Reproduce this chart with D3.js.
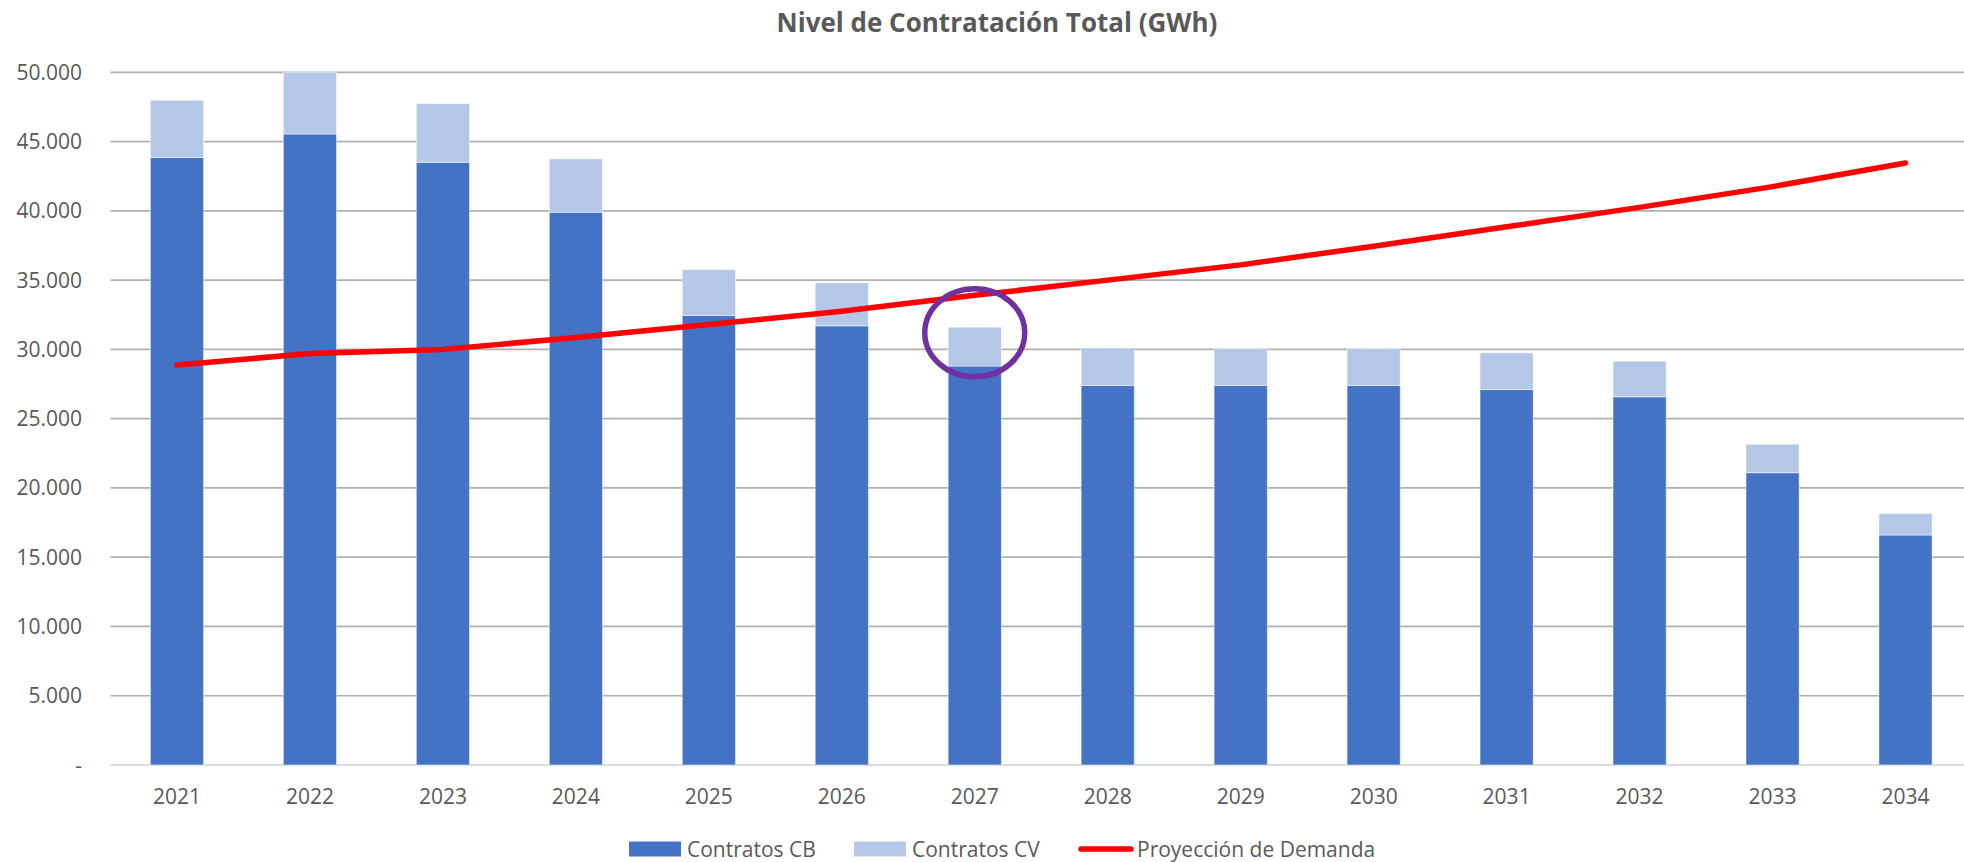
<!DOCTYPE html>
<html>
<head>
<meta charset="utf-8">
<script src="https://cdn.jsdelivr.net/npm/d3@7"></script>
<style>
  body { margin: 0; background: #fff; }
  svg { display: block; font-family: "Open Sans", sans-serif; }
</style>
</head>
<body>
<div id="chart"></div>
<script>
// valores (GWh)
const years = ["2021", "2022", "2023", "2024", "2025", "2026", "2027", "2028", "2029", "2030", "2031", "2032", "2033", "2034"];
const contratosCB = [43850, 45550, 43500, 39900, 32450, 31700, 28800, 27400, 27400, 27400, 27100, 26580, 21100, 16600];
const contratosCV = [4130, 4450, 4240, 3850, 3310, 3100, 2800, 2700, 2650, 2650, 2650, 2570, 2050, 1550];
const demanda = [28870, 29700, 30000, 30850, 31800, 32750, 33900, 35000, 36100, 37450, 38850, 40250, 41750, 43450];
const yTicks = [0, 5000, 10000, 15000, 20000, 25000, 30000, 35000, 40000, 45000, 50000];
const seriesNames = ["Contratos CB", "Contratos CV", "Proyección de Demanda"];
const seriesColors = ["#4472C4", "#B4C7E7", "#FF0000"];
const title = "Nivel de Contratación Total (GWh)";

var width = 1964,
    height = 862;

var locale = d3.formatLocale({ decimal: ",", thousands: ".", grouping: [3], currency: ["$", ""] });
var fmt = locale.format(",.0f");

var svg = d3.select("#chart").append("svg")
    .attr("width", width)
    .attr("height", height);

var x = d3.scaleBand()
    .domain(years)
    .range([110.5, 1972])
    .paddingInner(0.6)
    .paddingOuter(0.3);

var y = d3.scaleLinear()
    .domain([0, 50000])
    .range([765, 72.3]);

// grid
svg.append("g")
    .selectAll("line")
    .data(yTicks)
    .enter().append("line")
    .attr("x1", 110.5)
    .attr("x2", width)
    .attr("y1", d => y(d))
    .attr("y2", d => y(d))
    .style("stroke", d => d === 0 ? "#D0D0D0" : "#B0B0B0")
    .style("stroke-width", 1.7);

// y labels
svg.append("g")
    .selectAll("text")
    .data(yTicks)
    .enter().append("text")
    .attr("x", 82)
    .attr("y", d => y(d))
    .attr("dy", "0.36em")
    .attr("text-anchor", "end")
    .style("font-size", "21px")
    .style("fill", "#595959")
    .text(d => d === 0 ? "-" : fmt(d));

// stacked bars
var rows = years.map((yr, i) => ({ year: yr, cb: contratosCB[i], cv: contratosCV[i] }));
var stack = d3.stack().keys(["cb", "cv"]);
var layers = stack(rows);

svg.append("g")
    .selectAll("g")
    .data(layers)
    .enter().append("g")
    .style("fill", (d, i) => seriesColors[i])
    .selectAll("rect")
    .data(d => d)
    .enter().append("rect")
    .attr("x", d => x(d.data.year))
    .attr("width", x.bandwidth())
    .attr("y", d => y(d[1]))
    .attr("height", d => y(d[0]) - y(d[1]))
    .style("stroke", "#fff")
    .style("stroke-opacity", 0.5)
    .style("stroke-width", 1);

// x labels
svg.append("g")
    .selectAll("text")
    .data(years)
    .enter().append("text")
    .attr("x", d => x(d) + x.bandwidth() / 2)
    .attr("y", 804)
    .attr("text-anchor", "middle")
    .style("font-size", "21px")
    .style("fill", "#595959")
    .text(d => d);

// demand line
var line = d3.line()
    .x((d, i) => x(years[i]) + x.bandwidth() / 2)
    .y(d => y(d));

svg.append("path")
    .datum(demanda)
    .attr("d", line)
    .style("fill", "none")
    .style("stroke", seriesColors[2])
    .style("stroke-width", 5.5)
    .style("stroke-linecap", "round")
    .style("stroke-linejoin", "round");

// circle on 2027
svg.append("ellipse")
    .attr("cx", x("2027") + x.bandwidth() / 2)
    .attr("cy", y(31200))
    .attr("rx", 50)
    .attr("ry", 44)
    .style("fill", "none")
    .style("stroke", "#7030A0")
    .style("stroke-width", 5.5);

// title
svg.append("text")
    .attr("x", 997)
    .attr("y", 32)
    .attr("text-anchor", "middle")
    .style("font-size", "26px")
    .style("font-weight", "bold")
    .style("fill", "#595959")
    .text(title);

// legend
var legendX = [629, 854, 1079];
var legend = svg.append("g")
    .selectAll("g")
    .data(seriesNames)
    .enter().append("g")
    .attr("transform", (d, i) => "translate(" + legendX[i] + ",849)");

legend.each(function (d, i) {
    var g = d3.select(this);
    if (i < 2) {
        g.append("rect")
            .attr("x", 0)
            .attr("y", -7.5)
            .attr("width", 52)
            .attr("height", 15)
            .style("fill", seriesColors[i]);
    } else {
        g.append("line")
            .attr("x1", 2)
            .attr("x2", 52)
            .style("stroke", seriesColors[i])
            .style("stroke-width", 5.5)
            .style("stroke-linecap", "round");
    }
    g.append("text")
        .attr("x", 58)
        .attr("dy", "0.36em")
        .style("font-size", "21px")
        .style("fill", "#595959")
        .text(d);
});
</script>
</body>
</html>
